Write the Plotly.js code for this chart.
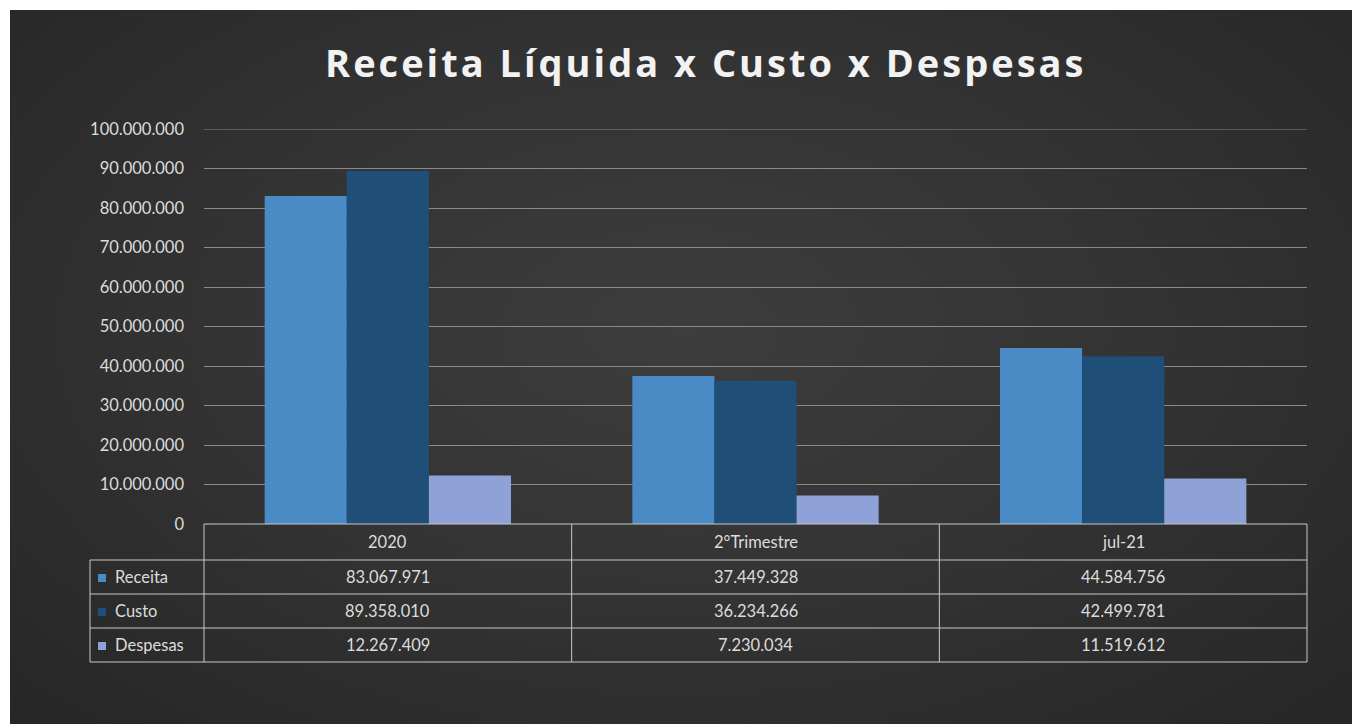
<!DOCTYPE html>
<html>
<head>
<meta charset="utf-8">
<script src="https://cdn.plot.ly/plotly-3.0.1.min.js"></script>
<style>
  html, body { margin: 0; padding: 0; background: #ffffff; }
  #bg { position: absolute; left: 10px; top: 10px; width: 1342px; height: 714px;
        background: radial-gradient(ellipse at 50% 45%, #3d3d3d 0%, #343434 45%, #262626 100%); }
  #chart { position: absolute; left: 0; top: 0; width: 1352px; height: 724px; }
  #chart .gtitle { letter-spacing: 3px; }
</style>
</head>
<body>
<div id="bg"></div>
<div id="chart"></div>
<script>
const categories = ['2020', '2°Trimestre', 'jul-21'];
const seriesNames = ['Receita', 'Custo', 'Despesas'];
const receita = [83067971, 37449328, 44584756];
const custo = [89358010, 36234266, 42499781];
const despesas = [12267409, 7230034, 11519612];
const seriesValues = [receita, custo, despesas];
const seriesColors = ['#4a8bc6', '#1f4e79', '#8fa2d7'];
const yMax = 100000000;

const W = 1352, H = 724;
const M = { l: 204, r: 45, t: 129, b: 200 };
const plotW = W - M.l - M.r, plotH = H - M.t - M.b;
const px = p => (p - M.l) / plotW;
const py = p => (H - M.b - p) / plotH;

function fmt(n) {
  return String(n).replace(/\B(?=(\d{3})+(?!\d))/g, '.');
}

const traces = seriesNames.map((name, i) => ({
  type: 'bar',
  name: name,
  x: categories,
  y: seriesValues[i],
  marker: { color: seriesColors[i] },
  hoverinfo: 'x+y+name'
}));

const lineCol = '#c8c8c8';
const textCol = '#dcdcdc';
const baseFont = 'Lato, "Open Sans", sans-serif';
const fs = 16.5;
const shapes = [];
const annotations = [];

// top gridline at range end
shapes.push({ type: 'line', xref: 'paper', yref: 'y', x0: 0, x1: 1, y0: yMax, y1: yMax,
  line: { color: '#8a8a8a', width: 1 } });

// table geometry (pixels)
const tableTop = 524, headerBottom = 560, rowH = 34, legendLeft = 90;
const nRows = seriesNames.length;
const tableBottom = headerBottom + rowH * nRows;

function hline(x0, x1, yp) {
  shapes.push({ type: 'line', xref: 'paper', yref: 'paper', x0: px(x0), x1: px(x1), y0: py(yp), y1: py(yp),
    line: { color: lineCol, width: 1 } });
}
function vline(xp, y0, y1) {
  shapes.push({ type: 'line', xref: 'paper', yref: 'paper', x0: px(xp), x1: px(xp), y0: py(y0), y1: py(y1),
    line: { color: lineCol, width: 1 } });
}
hline(M.l, W - M.r, tableTop);
for (let r = 0; r <= nRows; r++) hline(legendLeft, W - M.r, headerBottom + r * rowH);
vline(legendLeft, headerBottom, tableBottom);
for (let c = 0; c <= categories.length; c++) {
  vline(M.l + c * plotW / categories.length, tableTop, tableBottom);
}

// header labels
categories.forEach((cat, c) => {
  annotations.push({ xref: 'paper', yref: 'paper', x: px(M.l + (c + 0.5) * plotW / categories.length),
    y: py((tableTop + headerBottom) / 2), text: cat, showarrow: false, xanchor: 'center', yanchor: 'middle',
    font: { family: baseFont, size: fs, color: textCol } });
});

// rows
seriesNames.forEach((name, r) => {
  const yc = headerBottom + (r + 0.5) * rowH;
  shapes.push({ type: 'rect', xref: 'paper', yref: 'paper', x0: px(98), x1: px(106), y0: py(yc - 3), y1: py(yc + 5),
    fillcolor: seriesColors[r], line: { width: 0 } });
  annotations.push({ xref: 'paper', yref: 'paper', x: px(113), y: py(yc), text: name, showarrow: false,
    xanchor: 'left', yanchor: 'middle', font: { family: baseFont, size: fs, color: textCol } });
  seriesValues[r].forEach((v, c) => {
    annotations.push({ xref: 'paper', yref: 'paper', x: px(M.l + (c + 0.5) * plotW / categories.length),
      y: py(yc), text: fmt(v), showarrow: false, xanchor: 'center', yanchor: 'middle',
      font: { family: baseFont, size: fs, color: textCol } });
  });
});

const layout = {
  width: W, height: H,
  margin: M,
  paper_bgcolor: 'rgba(0,0,0,0)',
  plot_bgcolor: 'rgba(0,0,0,0)',
  separators: ',.',
  showlegend: false,
  barmode: 'group',
  bargap: 0.33,
  bargroupgap: 0,
  title: {
    text: '<b>Receita Líquida x Custo x Despesas</b>',
    x: 0.522, xanchor: 'center', xref: 'container',
    y: 1 - 64 / H, yanchor: 'middle', yref: 'container',
    font: { family: '"Open Sans", sans-serif', size: 38, color: '#f2f2f2' }
  },
  xaxis: {
    type: 'category',
    showticklabels: false,
    showgrid: false,
    zeroline: false,
    showline: false,
    ticks: ''
  },
  yaxis: {
    range: [0, yMax],
    dtick: 10000000,
    tickformat: ',d',
    showgrid: true,
    gridcolor: '#8a8a8a',
    gridwidth: 1,
    zeroline: false,
    showline: false,
    ticks: '',
    ticklabelstandoff: 19,
    tickfont: { family: baseFont, size: fs, color: textCol }
  },
  shapes: shapes,
  annotations: annotations
};

Plotly.newPlot('chart', traces, layout, { displayModeBar: false, staticPlot: true });
</script>
</body>
</html>
